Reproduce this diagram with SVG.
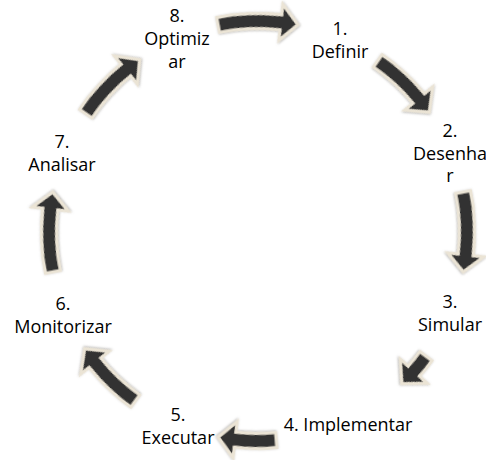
<svg xmlns="http://www.w3.org/2000/svg" width="486" height="460" viewBox="0 0 486 460">
  <style>
    .lbl { font-family: "Open Sans", "Liberation Sans", sans-serif; font-size: 18px; fill: #000; text-anchor: middle; }
    .arw { fill: #333333; stroke: #ebe4d5; stroke-width: 3; stroke-linejoin: miter; filter: url(#edge); }
  </style>
  <defs>
    <filter id="edge" x="-20%" y="-20%" width="140%" height="140%">
      <feDropShadow dx="0.6" dy="0.6" stdDeviation="1" flood-color="#6e6a62" flood-opacity="0.55"/>
    </filter>
  </defs>
  <rect width="486" height="460" fill="#ffffff"/>

  <!-- curved block arrows, each laid out from its tail at 12 o'clock, then turned into place -->
  <g id="connectors">
    <path class="arw" transform="translate(258,230) rotate(-11)" d="M0,-216.5 A216.5,216.5 0 0 1 64.4,-206.7 L67.5,-216.7 L78.3,-193.8 L56.8,-182.4 L59.9,-192.4 A201.5,201.5 0 0 0 0,-201.5 Z"/>
    <path class="arw" transform="translate(258,232) rotate(35)" d="M0,-216.5 A216.5,216.5 0 0 1 57.1,-208.8 L59.9,-219 L71.5,-196.4 L50.4,-184.2 L53.2,-194.4 A201.5,201.5 0 0 0 0,-201.5 Z"/>
    <path class="arw" transform="translate(258,232) rotate(79)" d="M0,-216.5 A216.5,216.5 0 0 1 64.4,-206.7 L67.5,-216.7 L78.3,-193.8 L56.8,-182.4 L59.9,-192.4 A201.5,201.5 0 0 0 0,-201.5 Z"/>
    <path class="arw" transform="translate(258,232) rotate(126.5)" d="M0,-216.5 A216.5,216.5 0 0 1 20,-215.6 L21,-226 L36.3,-205.8 L17.6,-190.2 L18.6,-200.6 A201.5,201.5 0 0 0 0,-201.5 Z"/>
    <path class="arw" transform="translate(258,232) rotate(175)" d="M0,-216.5 A216.5,216.5 0 0 1 42.4,-212.3 L44.5,-222.6 L57.6,-200.9 L37.4,-187.3 L39.5,-197.6 A201.5,201.5 0 0 0 0,-201.5 Z"/>
    <path class="arw" transform="translate(258,232) rotate(216)" d="M0,-216.5 A216.5,216.5 0 0 1 57.1,-208.8 L59.9,-219 L71.5,-196.4 L50.4,-184.2 L53.2,-194.4 A201.5,201.5 0 0 0 0,-201.5 Z"/>
    <path class="arw" transform="translate(258,232) rotate(259)" d="M0,-216.5 A216.5,216.5 0 0 1 64.4,-206.7 L67.5,-216.7 L78.3,-193.8 L56.8,-182.4 L59.9,-192.4 A201.5,201.5 0 0 0 0,-201.5 Z"/>
    <path class="arw" transform="translate(258,232) rotate(304.5)" d="M0,-216.5 A216.5,216.5 0 0 1 60.8,-207.8 L63.7,-217.9 L74.9,-195.1 L53.6,-183.3 L56.6,-193.4 A201.5,201.5 0 0 0 0,-201.5 Z"/>
  </g>

  <g id="node-1">
    <text class="lbl" x="340" y="35">1.</text>
    <text class="lbl" x="340" y="58">Definir</text>
  </g>
  <g id="node-2">
    <text class="lbl" x="450" y="137">2.</text>
    <text class="lbl" x="450" y="160">Desenha</text>
    <text class="lbl" x="450" y="182">r</text>
  </g>
  <g id="node-3">
    <text class="lbl" x="450" y="308">3.</text>
    <text class="lbl" x="450" y="331">Simular</text>
  </g>
  <g id="node-4">
    <text class="lbl" x="348" y="431">4. Implementar</text>
  </g>
  <g id="node-5">
    <text class="lbl" x="178" y="421">5.</text>
    <text class="lbl" x="178" y="444">Executar</text>
  </g>
  <g id="node-6">
    <text class="lbl" x="63" y="310">6.</text>
    <text class="lbl" x="63" y="333">Monitorizar</text>
  </g>
  <g id="node-7">
    <text class="lbl" x="62" y="148">7.</text>
    <text class="lbl" x="62" y="171">Analisar</text>
  </g>
  <g id="node-8">
    <text class="lbl" x="177" y="22">8.</text>
    <text class="lbl" x="177" y="45">Optimiz</text>
    <text class="lbl" x="177" y="68">ar</text>
  </g>
</svg>
